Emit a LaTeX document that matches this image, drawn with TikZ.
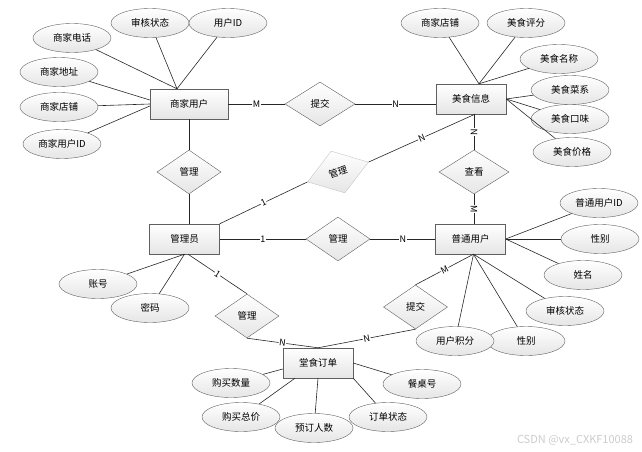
\documentclass[tikz,border=0pt]{standalone}
\usepackage{fontspec}
\setmainfont{Noto Sans CJK SC}
\usetikzlibrary{shapes.geometric}
\newcommand{\erfont}{\fontsize{9.5}{11}\selectfont}
\newcommand{\cardfont}{\fontsize{9}{10}\selectfont}
\tikzset{
  ent/.style={draw=gray!75!black, top color=white, bottom color=gray!20, minimum width=70pt, minimum height=30pt, inner sep=0pt, font=\erfont},
  rel/.style={diamond, draw=gray!75!black, top color=white, bottom color=gray!20, minimum width=64pt, minimum height=44pt, inner sep=0pt, font=\erfont},
  attr/.style={ellipse, draw=gray!75!black, top color=white, bottom color=gray!20, minimum width=78pt, minimum height=29pt, inner sep=0pt, font=\erfont},
  conn/.style={draw=gray!30!black, line width=0.6pt},
  card/.style={fill=white, inner sep=0.6pt, font=\cardfont, sloped},
}
\begin{document}
\begin{tikzpicture}[x=1pt,y=-1pt]
    \useasboundingbox (0,0) rectangle (642,452);
    \node[ent, minimum width=78pt] (merchant) at (189,104) {商家用户};
    \node[ent] (food) at (471,99) {美食信息};
    \node[ent] (admin) at (184.5,239) {管理员};
    \node[ent] (user) at (470.5,239) {普通用户};
    \node[ent] (order) at (318,363) {堂食订单};
    \node[rel, minimum width=70pt] (submit1) at (320,104) {提交};
    \node[rel] (manage1) at (189,172) {管理};
    \node[rel, rotate=18, draw=gray!45] (manage2) at (338,172) {管理};
    \node[rel, minimum width=70pt] (view) at (474,172) {查看};
    \node[rel] (manage3) at (338,239) {管理};
    \node[rel] (manage4) at (247,316) {管理};
    \node[rel] (submit2) at (415.5,307) {提交};
    \node[attr] (mtel) at (72,38) {商家电话};
    \node[attr] (maudit) at (150,23) {审核状态};
    \node[attr] (mid) at (228,23) {用户ID};
    \node[attr] (maddr) at (59,72) {商家地址};
    \node[attr] (mshop) at (59,107) {商家店铺};
    \node[attr] (muid) at (62,144) {商家用户ID};
    \node[attr] (fshop) at (440,23) {商家店铺};
    \node[attr] (fscore) at (526,23) {美食评分};
    \node[attr] (fname) at (559,59) {美食名称};
    \node[attr] (fstyle) at (570,90) {美食菜系};
    \node[attr] (ftaste) at (570,119) {美食口味};
    \node[attr] (fprice) at (572,152) {美食价格};
    \node[attr] (uid) at (599,203) {普通用户ID};
    \node[attr] (usex1) at (600,239) {性别};
    \node[attr] (uname) at (583,275) {姓名};
    \node[attr] (uaudit) at (565,311) {审核状态};
    \node[attr] (usex2) at (526,341) {性别};
    \node[attr] (upoints) at (455,341) {用户积分};
    \node[attr] (acct) at (98,284) {账号};
    \node[attr] (pwd) at (150,308) {密码};
    \node[attr] (otable) at (422,384) {餐桌号};
    \node[attr] (ostate) at (388,417) {订单状态};
    \node[attr] (oqty) at (231,383) {购买数量};
    \node[attr] (ototal) at (241,417) {购买总价};
    \node[attr] (opeople) at (314,428) {预订人数};
    \node[font=\fontsize{11}{12}\selectfont, text=gray!40] (mark) at (575,440) {CSDN @vx\_CXKF10088};
    \draw[conn] (mtel) -- ([xshift=-12pt]merchant.north);
    \draw[conn] (maudit) -- ([xshift=-12pt]merchant.north);
    \draw[conn] (mid) -- ([xshift=-12pt]merchant.north);
    \draw[conn] (maddr) -- ([yshift=4pt]merchant.west);
    \draw[conn] (mshop) -- (merchant.west);
    \draw[conn] (muid) -- ([yshift=-2pt]merchant.west);
    \draw[conn] (fshop) -- ([xshift=8pt]food.north);
    \draw[conn] (fscore) -- ([xshift=8pt]food.north);
    \draw[conn] (fname) -- ([xshift=8pt]food.north);
    \draw[conn] (fstyle) -- (food.east);
    \draw[conn] (ftaste) -- (food.east);
    \draw[conn] (fprice) -- (food.east);
    \draw[conn] (uid) -- (user.east);
    \draw[conn] (usex1) -- (user.east);
    \draw[conn] (uname) -- (user.east);
    \draw[conn] (uaudit) -- ([xshift=3pt]user.south);
    \draw[conn] (usex2) -- ([xshift=3pt]user.south);
    \draw[conn] (upoints) -- ([xshift=3pt]user.south);
    \draw[conn] (acct) -- (admin.south);
    \draw[conn] (pwd) -- (admin.south);
    \draw[conn] (oqty) -- ([yshift=-6pt]order.west);
    \draw[conn] (ototal) -- ([xshift=-23pt]order.south);
    \draw[conn] (opeople) -- (order.south);
    \draw[conn] (ostate) -- (order.south east);
    \draw[conn] (otable) -- (order.east);
    \draw[conn] (merchant.east) -- node[card] {M} (submit1.west);
    \draw[conn] (submit1.east) -- node[card] {N} (submit1.east -| food.west);
    \draw[conn] (merchant.south) -- (manage1.north);
    \draw[conn] (manage1.south) -- (manage1.south |- admin.north);
    \draw[conn] (admin.north east) -- node[card] {1} (manage2.west);
    \draw[conn] (manage2.east) -- node[card] {N} ([xshift=4pt]food.south);
    \draw[conn] (view.north) -- node[card] {N} (view.north |- food.south);
    \draw[conn] (view.south) -- node[card] {M} (view.south |- user.north);
    \draw[conn] (admin.east) -- node[card] {1} (manage3.west);
    \draw[conn] (manage3.east) -- node[card] {N} (user.west);
    \draw[conn] ([xshift=3.5pt]admin.south) -- node[card] {1} (manage4.north);
    \draw[conn] (manage4.south) -- node[card] {N} (order.north);
    \draw[conn] ([xshift=3pt]user.south) -- node[card] {M} (submit2.north);
    \draw[conn] (submit2.south) -- node[card] {N} (order.north);
\end{tikzpicture}
\end{document}
